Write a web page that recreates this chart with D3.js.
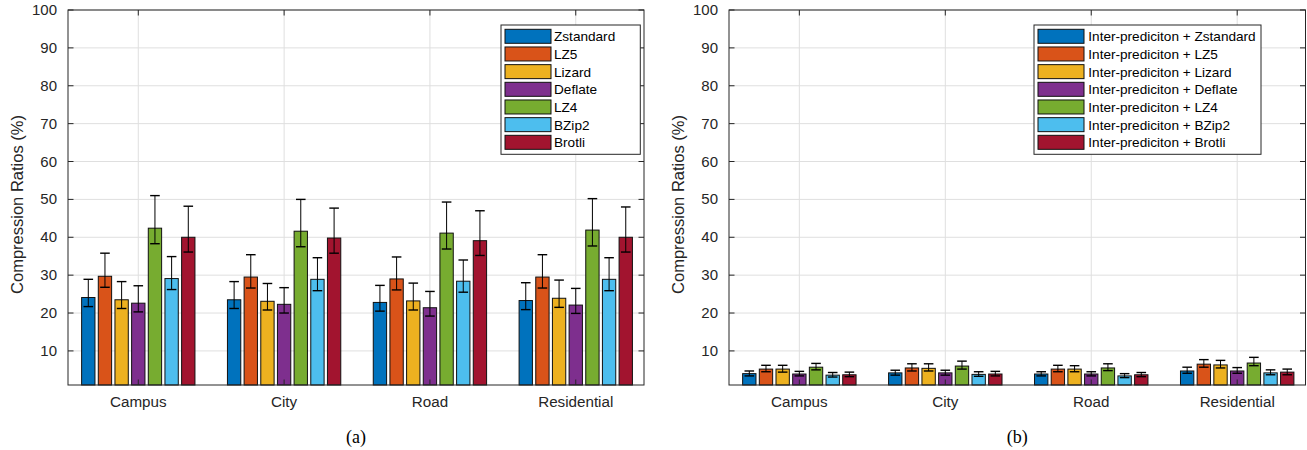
<!DOCTYPE html>
<html><head><meta charset="utf-8">
<script src="https://cdn.jsdelivr.net/npm/d3@7/dist/d3.min.js"></script>
<style>body{margin:0;background:#fff}svg{display:block}</style>
</head><body>
<svg id="c" width="1307" height="450"></svg>
<script>
const categories = ["Campus", "City", "Road", "Residential"];
const seriesNames = ["Zstandard", "LZ5", "Lizard", "Deflate", "LZ4", "BZip2", "Brotli"];
const legendPrefixRight = "Inter-prediciton + ";
const colors = ["#0072BD", "#D95319", "#EDB120", "#7E2F8E", "#77AC30", "#4DBEEE", "#A2142F"];
const yTicks = [10, 20, 30, 40, 50, 60, 70, 80, 90, 100];

// (a) values, rows = series, columns = categories
const leftValues = [
  [24.1, 23.5, 22.8, 23.3],
  [29.7, 29.5, 29.0, 29.5],
  [23.5, 23.1, 23.2, 23.9],
  [22.6, 22.3, 21.4, 22.1],
  [42.4, 41.6, 41.1, 41.9],
  [29.1, 28.9, 28.4, 28.9],
  [40.0, 39.8, 39.1, 40.0]
];
const leftHigh = [
  [28.9, 28.3, 27.3, 28.0],
  [35.8, 35.4, 34.8, 35.4],
  [28.3, 27.8, 27.9, 28.7],
  [27.2, 26.7, 25.7, 26.5],
  [51.0, 50.0, 49.3, 50.2],
  [34.9, 34.6, 34.0, 34.6],
  [48.2, 47.7, 47.0, 48.0]
];
const leftLow = [
  [21.7, 21.2, 20.5, 20.9],
  [26.8, 26.6, 26.1, 26.6],
  [21.2, 20.8, 20.8, 21.5],
  [20.3, 20.0, 19.2, 19.9],
  [38.3, 37.5, 36.9, 37.7],
  [26.2, 25.9, 25.5, 25.9],
  [36.1, 35.8, 35.2, 36.1]
];
// (b) values
const rightValues = [
  [4.0, 4.2, 3.9, 4.7],
  [5.2, 5.5, 5.2, 6.5],
  [5.2, 5.4, 5.2, 6.3],
  [3.9, 4.2, 3.9, 4.7],
  [5.7, 6.0, 5.5, 6.8],
  [3.6, 3.8, 3.4, 4.2],
  [3.7, 3.9, 3.7, 4.4]
];
const rightHigh = [
  [4.7, 4.9, 4.5, 5.7],
  [6.2, 6.6, 6.2, 7.7],
  [6.2, 6.6, 6.1, 7.5],
  [4.6, 4.9, 4.5, 5.6],
  [6.7, 7.3, 6.6, 8.3],
  [4.3, 4.5, 4.0, 5.0],
  [4.4, 4.6, 4.3, 5.2]
];
const rightLow = [
  [3.4, 3.6, 3.4, 4.1],
  [4.5, 4.7, 4.5, 5.7],
  [4.4, 4.7, 4.5, 5.5],
  [3.4, 3.6, 3.4, 4.1],
  [5.0, 5.2, 4.8, 6.1],
  [3.1, 3.3, 2.95, 3.7],
  [3.2, 3.4, 3.2, 3.7]
];

const svg = d3.select("#c");
const FONT = "'Liberation Sans', Arial, Helvetica, sans-serif";
const AX = "#262626";

function panel(opt) {
  const {x0, x1, values, high, low, labels, legend, caption} = opt;
  const top = 10, bottom = 385;
  const y = d3.scaleLinear().domain([1, 100]).range([bottom, top]);
  const x = d3.scaleLinear().domain([0.518, 4.468]).range([x0, x1]);
  const g = svg.append("g");
  const n = seriesNames.length;
  const slot = 0.8 / n;
  const bw = slot * 0.8;

  // grid
  g.append("g").selectAll("line").data(yTicks).join("line")
    .attr("x1", x0).attr("x2", x1)
    .attr("y1", d => y(d)).attr("y2", d => y(d))
    .attr("stroke", "#dfdfdf").attr("stroke-width", 1);
  g.append("g").selectAll("line").data(categories).join("line")
    .attr("x1", (d, i) => x(i + 1)).attr("x2", (d, i) => x(i + 1))
    .attr("y1", top).attr("y2", bottom)
    .attr("stroke", "#dfdfdf").attr("stroke-width", 1);

  // bars
  const flat = [];
  values.forEach((row, s) => row.forEach((v, c) => flat.push({
    s, c, v, hi: high[s][c], lo: low[s][c],
    cx: c + 1 + (s - (n - 1) / 2) * slot
  })));
  g.append("g").selectAll("rect").data(flat).join("rect")
    .attr("x", d => x(d.cx - bw / 2))
    .attr("width", d => x(d.cx + bw / 2) - x(d.cx - bw / 2))
    .attr("y", d => y(d.v))
    .attr("height", d => y(1) - y(d.v))
    .attr("fill", d => colors[d.s])
    .attr("stroke", "#111").attr("stroke-width", 1);

  // error bars
  const cap = 4.8;
  const eb = g.append("g").attr("stroke", "#000").attr("stroke-width", 1);
  eb.selectAll("line.v").data(flat).join("line").attr("class", "v")
    .attr("x1", d => x(d.cx)).attr("x2", d => x(d.cx))
    .attr("y1", d => y(d.lo)).attr("y2", d => y(d.hi));
  eb.selectAll("line.h").data(flat).join("line").attr("class", "h")
    .attr("x1", d => x(d.cx) - cap).attr("x2", d => x(d.cx) + cap)
    .attr("y1", d => y(d.hi)).attr("y2", d => y(d.hi))
    .attr("stroke-width", 1.4);
  eb.selectAll("line.l").data(flat).join("line").attr("class", "l")
    .attr("x1", d => x(d.cx) - cap).attr("x2", d => x(d.cx) + cap)
    .attr("y1", d => y(d.lo)).attr("y2", d => y(d.lo))
    .attr("stroke-width", 1.4);

  // box
  g.append("rect").attr("x", x0).attr("y", top)
    .attr("width", x1 - x0).attr("height", bottom - top)
    .attr("fill", "none").attr("stroke", AX).attr("stroke-width", 1);

  // y ticks (inward, both sides)
  const tl = 5.5;
  const yt = g.append("g").attr("stroke", AX);
  yt.selectAll("line.a").data(yTicks).join("line").attr("class", "a")
    .attr("x1", x0).attr("x2", x0 + tl).attr("y1", d => y(d)).attr("y2", d => y(d));
  yt.selectAll("line.b").data(yTicks).join("line").attr("class", "b")
    .attr("x1", x1).attr("x2", x1 - tl).attr("y1", d => y(d)).attr("y2", d => y(d));
  // x ticks (inward, bottom and top)
  yt.selectAll("line.c").data(categories).join("line").attr("class", "c")
    .attr("x1", (d, i) => x(i + 1)).attr("x2", (d, i) => x(i + 1))
    .attr("y1", bottom).attr("y2", bottom - tl);
  yt.selectAll("line.d").data(categories).join("line").attr("class", "d")
    .attr("x1", (d, i) => x(i + 1)).attr("x2", (d, i) => x(i + 1))
    .attr("y1", top).attr("y2", top + tl);

  // tick labels
  g.append("g").selectAll("text").data(yTicks).join("text")
    .attr("x", x0 - 11).attr("y", d => y(d) + 5)
    .attr("text-anchor", "end").attr("font-family", FONT).attr("font-size", 15)
    .attr("fill", AX).text(d => d);
  g.append("g").selectAll("text").data(categories).join("text")
    .attr("x", (d, i) => x(i + 1)).attr("y", 406.5)
    .attr("text-anchor", "middle").attr("font-family", FONT).attr("font-size", 15.2)
    .attr("fill", AX).text(d => d);

  // y label
  g.append("text")
    .attr("transform", `translate(${x0 - 45},${(top + bottom) / 2 + 7}) rotate(-90)`)
    .attr("text-anchor", "middle").attr("font-family", FONT).attr("font-size", 16.5)
    .attr("fill", AX).text("Compression Ratios (%)");

  // caption
  g.append("text").attr("x", (x0 + x1) / 2).attr("y", 443)
    .attr("text-anchor", "middle").attr("font-family", "'Liberation Serif', 'Times New Roman', serif")
    .attr("font-size", 18).attr("fill", "#000").text(caption);

  // legend
  const L = legend;
  const lg = g.append("g");
  lg.append("rect").attr("x", L.x).attr("y", 25).attr("width", L.w).attr("height", 129.3)
    .attr("fill", "#fff").attr("stroke", AX).attr("stroke-width", 1);
  const rows = lg.selectAll("g").data(labels).join("g")
    .attr("transform", (d, i) => `translate(0,${36.3 + i * 17.67})`);
  rows.append("rect").attr("x", L.x + 4).attr("y", -7).attr("width", 46).attr("height", 14)
    .attr("fill", (d, i) => colors[i]).attr("stroke", "#111").attr("stroke-width", 1);
  rows.append("text").attr("x", L.x + L.tx).attr("y", 5)
    .attr("font-family", FONT).attr("font-size", 13.6).attr("fill", "#000").text(d => d);
}

panel({x0: 68, x1: 644, values: leftValues, high: leftHigh, low: leftLow,
  labels: seriesNames, legend: {x: 501, w: 139.3, tx: 53}, caption: "(a)"});
panel({x0: 729, x1: 1305.5, values: rightValues, high: rightHigh, low: rightLow,
  labels: seriesNames.map(s => legendPrefixRight + s), legend: {x: 1034, w: 227, tx: 54.3}, caption: "(b)"});
</script>
</body></html>
